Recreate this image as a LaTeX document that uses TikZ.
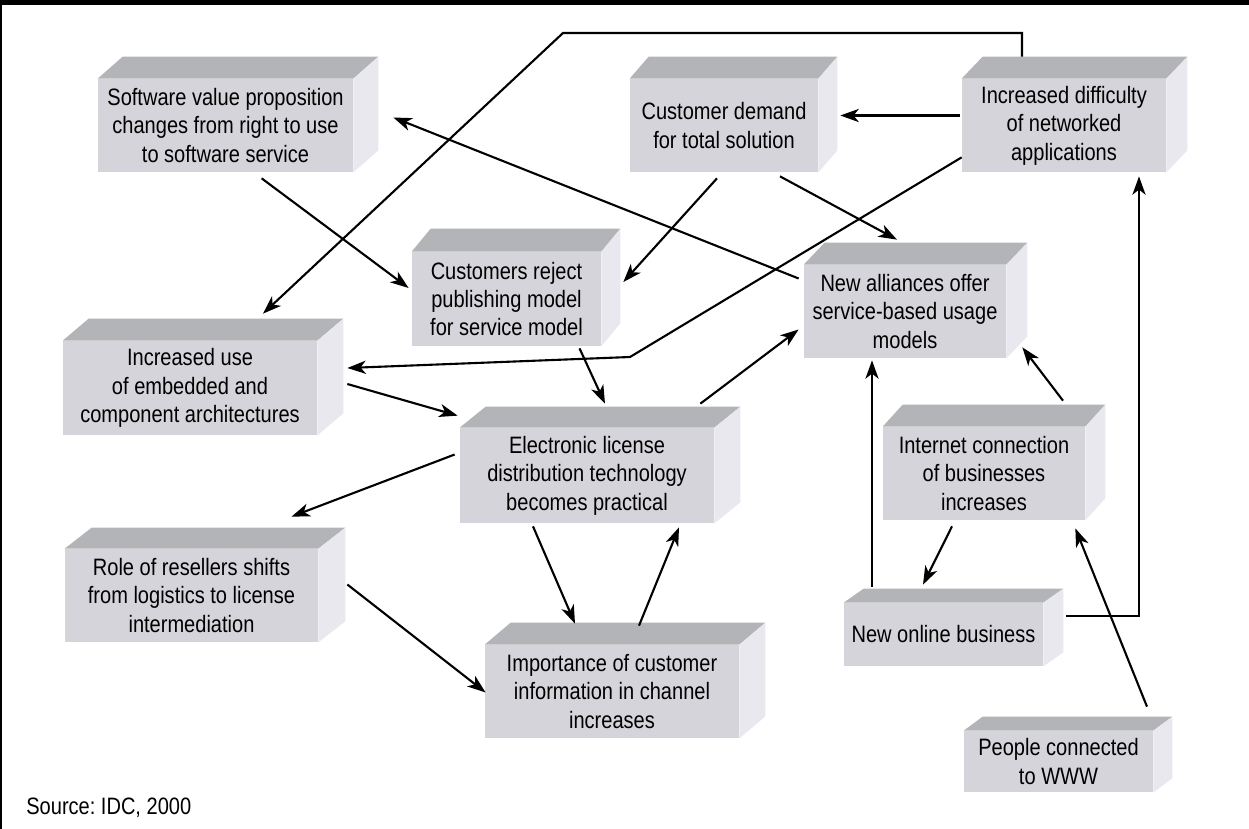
\documentclass[tikz,border=0pt]{standalone}
\usepackage{fontspec}
\setmainfont{Liberation Sans}[FakeStretch=0.845]
\usepackage{tikz}
\usetikzlibrary{arrows.meta,
								calc}
\definecolor{boxfront}{RGB}{212,212,218}
\definecolor{boxtop}{RGB}{179,180,184}
\definecolor{boxside}{RGB}{232,232,238}
\frenchspacing

\begin{document}
\begin{tikzpicture}[x=0.02cm, y=-0.02cm,
  box/.style 2 args={fill=boxfront, minimum width=#1*0.02cm, minimum height=#2*0.02cm,
    inner sep=0pt, align=center, font=\fontsize{13.5}{16.2}\selectfont},
  link/.style={draw, line width=1.2pt, -{Stealth[length=10.5pt,width=7.5pt,inset=3pt]}}]
  \useasboundingbox (0,0) rectangle (1249,829);
  \fill (0,0) rectangle (1249,5);
  \fill (0,0) rectangle (2.5,829);

  % Kaesten (Vorderseite)
  \node[box={255}{93}] (soft) at (225.5,125.5) {Software value proposition\\changes from right to use\\to software service};
  \node[box={188}{93}] (demand) at (724,125.5) {Customer demand\\for total solution};
  \node[box={204}{93}] (diff) at (1064,125.5) {Increased difficulty\\of networked\\applications};
  \node[box={189}{94}] (reject) at (506.5,299) {Customers reject\\publishing model\\for service model};
  \node[box={202}{93}] (alliances) at (905,311.5) {New alliances offer\\service-based usage\\models};
  \node[box={254}{94}] (incuse) at (190,388) {Increased use\\of embedded and\\component architectures};
  \node[box={254}{95}] (elec) at (587,475.5) {Electronic license\\distribution technology\\becomes practical};
  \node[box={253}{93}] (roles) at (191.5,595.5) {Role of resellers shifts\\from logistics to license\\intermediation};
  \node[box={254}{93}] (import) at (612,691.5) {Importance of customer\\information in channel\\increases};
  \node[box={202}{93}] (inet) at (984,473.5) {Internet connection\\of businesses\\increases};
  \node[box={199}{63}] (online) at (943.5,634.5) {New online business};
  \node[box={189}{61}] (people) at (1058.5,761.5) {People connected\\to WWW};

  % Deckel und Seite
  \foreach \n/\dx/\dy in {soft/25/22, demand/19/22, diff/21/22, reject/19/23, alliances/21/22,
                          incuse/26/22, elec/26/21, roles/27/21, import/26/22, inet/20/22,
                          online/20/14, people/19/14}
  {
    \fill[boxtop] (\n.north west) -- ++(\dx,-\dy) -- ($(\n.north east)+(\dx,-\dy)$) -- (\n.north east) -- cycle;
    \fill[boxside] (\n.north east) -- ++(\dx,-\dy) -- ($(\n.south east)+(\dx,-\dy)$) -- (\n.south east) -- cycle;
  }

  \coordinate (topleft) at (563,33);
  \coordinate (midbend) at (630,357);

  % Verbindungen
  \draw[link] ($(soft.south west)+(164,6)$) -- ($(reject.west)+(-3,-11)$);
  \draw[link] ($(demand.south)+(-7,6)$) -- ($(reject.east)+(22,-17)$);
  \draw[link] ($(demand.south)+(56,4)$) -- ($(alliances.north)+(-8,-25)$);
  \draw[link] ($(diff.west)+(-2,-10)$) -- ($(demand.east)+(22,-10)$);
  \draw[link] ($(diff.north)+(-42,-22)$) |- (topleft) -- ($(incuse.north)+(73,-27)$);
  \draw[link] ($(diff.south west)+(0,-15)$) -- (midbend) -- ($(incuse.east)+(30,-20)$);
  \draw[link] ($(alliances.west)+(-5,-33)$) -- ($(soft.east)+(40,-8)$);
  \draw[link] ($(reject.south)+(73,2)$) -- ($(elec.north)+(18,-24)$);
  \draw[link] ($(incuse.east)+(30,-4)$) -- ($(elec.north west)+(-2,-12)$);
  \draw[link] ($(elec.north east)+(-14,-24)$) -- ($(alliances.west)+(-5,18)$);
  \draw[link] ($(elec.west)+(-5,-21)$) -- ($(roles.north)+(100,-32)$);
  \draw[link] ($(elec.south)+(-54,3)$) -- ($(import.north)+(-37,-21)$);
  \draw[link] ($(import.north)+(27,-19)$) -- ($(elec.south)+(92,4)$);
  \draw[link] ($(roles.east)+(29,-11)$) -- ($(import.west)+(1,1)$);
  \draw[link] ($(online.north)+(-71.5,-16)$) -- ($(alliances.south)+(-33,2)$);
  \draw[link] ($(inet.north)+(79,-26)$) -- ($(alliances.south east)+(16,-11)$);
  \draw[link] ($(inet.south)+(-32,6)$) -- ($(online.north)+(-20.5,-18)$);
  \draw[link] ($(online.east)+(23,-18.5)$) -| ($(diff.south)+(75,4)$);
  \draw[link] ($(people.north)+(88.5,-24)$) -- ($(inet.south east)+(-10,8)$);

  \node[anchor=west, inner sep=0pt, font=\fontsize{13.5}{16.2}\selectfont] (source) at (26,808) {Source: IDC, 2000};
\end{tikzpicture}
\end{document}
